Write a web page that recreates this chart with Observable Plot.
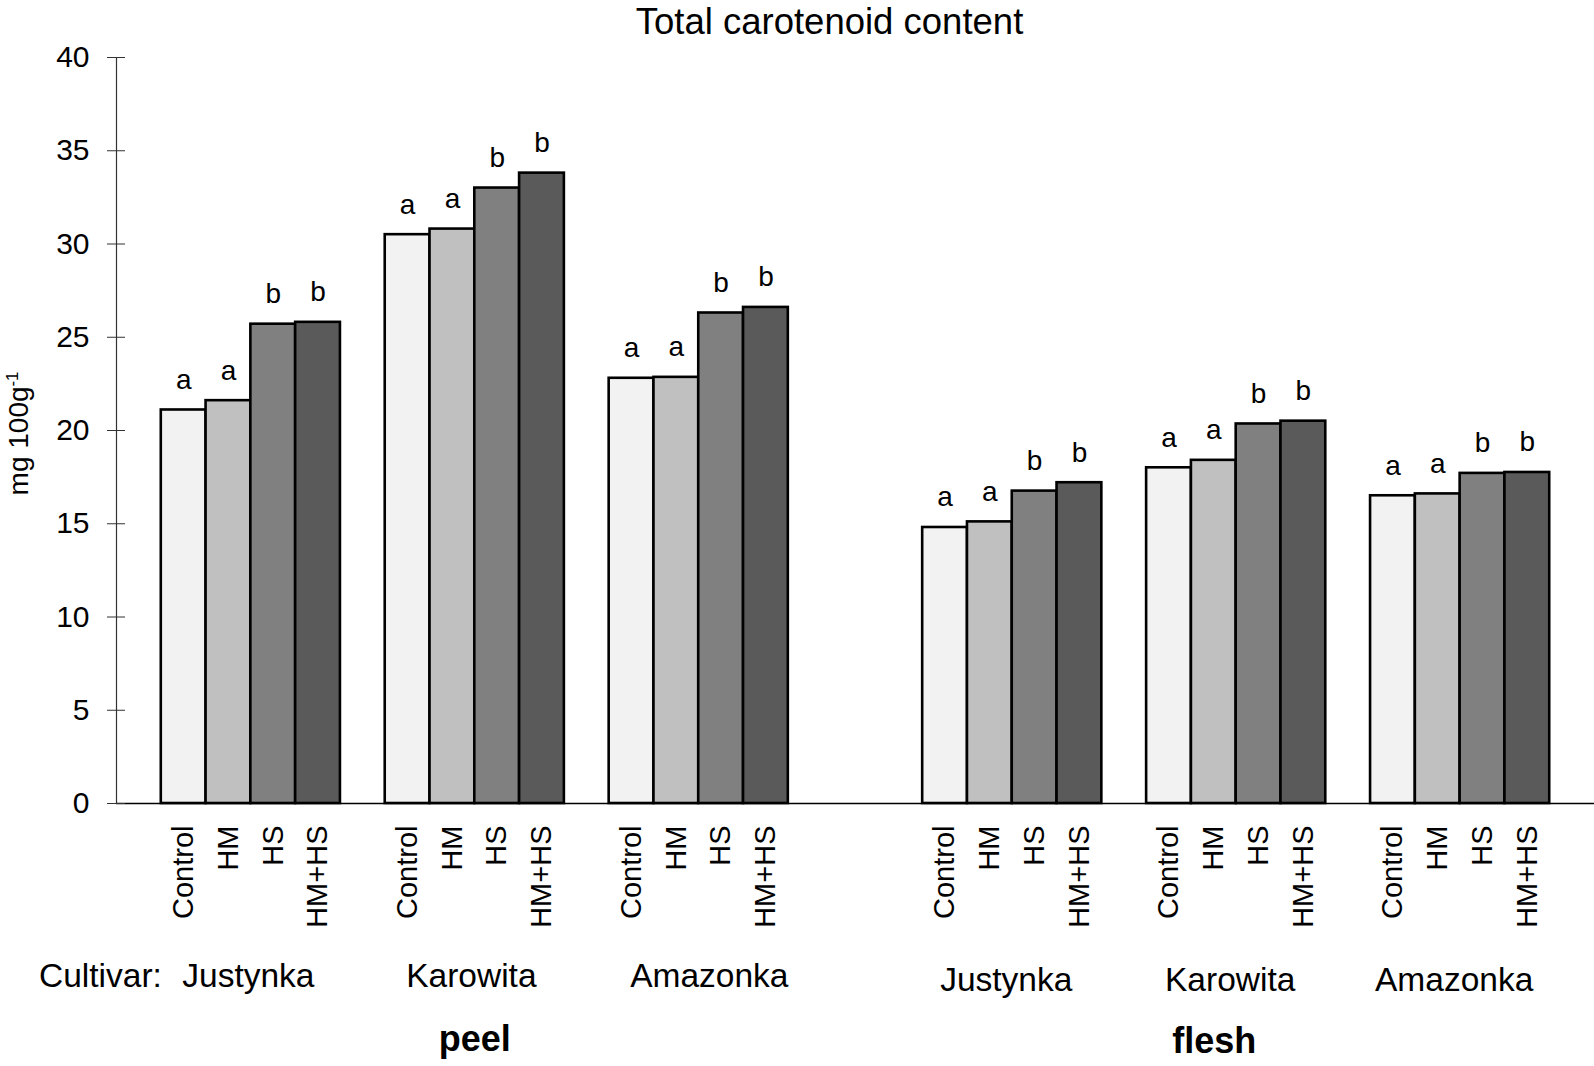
<!DOCTYPE html>
<html><head><meta charset="utf-8">
<script src="https://cdn.jsdelivr.net/npm/d3@7"></script>
<script src="https://cdn.jsdelivr.net/npm/@observablehq/plot@0.6"></script>
<style>body{margin:0;background:#fff} svg{display:block}</style>
</head><body><div id="chart"></div>
<script>
const title = "Total carotenoid content";
const yLabel = "mg 100g";
const yLabelSup = "-1";
const cultivarPrefix = "Cultivar:";
const parts = ["peel", "flesh"];
const cultivars = ["Justynka", "Karowita", "Amazonka"];
const treatments = ["Control", "HM", "HS", "HM+HS"];
const fills = ["#f2f2f2", "#c0c0c0", "#808080", "#5a5a5a"];
const peelValues = [
  [21.1, 21.6, 25.7, 25.8],
  [30.5, 30.8, 33.0, 33.8],
  [22.8, 22.85, 26.3, 26.6]
];
const fleshValues = [
  [14.8, 15.1, 16.75, 17.2],
  [18.0, 18.4, 20.35, 20.5],
  [16.5, 16.6, 17.7, 17.75]
];
const peelLetters = [["a","a","b","b"],["a","a","b","b"],["a","a","b","b"]];
const fleshLetters = [["a","a","b","b"],["a","a","b","b"],["a","a","b","b"]];
const yTicks = [0, 5, 10, 15, 20, 25, 30, 35, 40];

const W = 1594, H = 1066;
const groupSlots = treatments.length + 1;
const partSlots = cultivars.length * groupSlots + 2;
const totalSlots = 1 + partSlots + cultivars.length * groupSlots;
const startSlot = (p, g) => 1 + p * partSlots + g * groupSlots;

const valuesByPart = [peelValues, fleshValues];
const lettersByPart = [peelLetters, fleshLetters];
const rows = [];
const groups = [];
parts.forEach((part, p) => {
  cultivars.forEach((cv, g) => {
    const s = startSlot(p, g);
    groups.push({part, cultivar: cv, start: s, cx: s + treatments.length / 2});
    treatments.forEach((t, i) => {
      rows.push({part, cultivar: cv, treatment: t,
        value: valuesByPart[p][g][i], letter: lettersByPart[p][g][i],
        x1: s + i, x2: s + i + 1});
    });
  });
});
const partCenters = parts.map((part, p) => ({part,
  cx: (startSlot(p, 0) + startSlot(p, cultivars.length - 1) + treatments.length) / 2}));

const font = "Liberation Sans, Arial, Helvetica, sans-serif";
const chart = Plot.plot({
  width: W, height: H,
  marginLeft: 116, marginRight: 0, marginTop: 57, marginBottom: 263,
  style: {fontFamily: font, background: "white", color: "black", overflow: "visible"},
  x: {domain: [0, totalSlots], axis: null},
  y: {domain: [0, 40]},
  color: {domain: treatments, range: fills},
  marks: [
    Plot.rect(rows, {x1: "x1", x2: "x2", y1: 0, y2: "value", fill: "treatment", stroke: "black", strokeWidth: 2.6}),
    Plot.ruleX([0], {y1: 0, y2: 40, stroke: "#333", strokeWidth: 1.2}),
    Plot.ruleY([0], {stroke: "black", strokeWidth: 1.6}),
    Plot.axisY({ticks: yTicks, tickSize: 18, dx: 9, tickPadding: 18, fontSize: 30, label: null, stroke: "#333"}),
    Plot.text(rows, {x: d => (d.x1 + d.x2) / 2, y: "value", text: "letter", dy: -21, lineAnchor: "bottom", fontSize: 28, fill: "black"}),
    Plot.text(rows, {x: d => (d.x1 + d.x2) / 2, frameAnchor: "bottom", text: "treatment", rotate: -90, textAnchor: "end", lineAnchor: "middle", dy: 22, fontSize: 29, fill: "black"}),
    Plot.text(groups.filter(d => d.part === "peel"), {x: "start", frameAnchor: "bottom", text: "cultivar", dx: 21, dy: 173, textAnchor: "start", lineAnchor: "middle", fontSize: 33.5, fill: "black"}),
    Plot.text(groups.filter(d => d.part === "flesh"), {x: "cx", frameAnchor: "bottom", text: "cultivar", dx: -6, dy: 177, lineAnchor: "middle", fontSize: 33.5, fill: "black"}),
    Plot.text([cultivarPrefix], {frameAnchor: "bottom-left", dx: -77.5, dy: 173, textAnchor: "start", lineAnchor: "middle", fontSize: 33.5, fill: "black"}),
    Plot.text(partCenters.filter(d => d.part === "peel"), {x: "cx", frameAnchor: "bottom", text: "part", dy: 236, lineAnchor: "middle", fontSize: 36, fontWeight: "bold", fill: "black"}),
    Plot.text(partCenters.filter(d => d.part === "flesh"), {x: "cx", frameAnchor: "bottom", text: "part", dx: -22, dy: 238, lineAnchor: "middle", fontSize: 36, fontWeight: "bold", fill: "black"}),
    Plot.text([title], {frameAnchor: "top", dx: -26, dy: -24, lineAnchor: "bottom", fontSize: 36.5, fill: "black"}),
    Plot.text([yLabel], {frameAnchor: "left", dx: -97, dy: 3, rotate: -90, textAnchor: "middle", lineAnchor: "middle", fontSize: 28, fill: "black"})
  ]
});
document.getElementById("chart").appendChild(chart);
d3.select(chart).selectAll("text").filter(function() { return this.textContent === yLabel; })
  .append("tspan").attr("font-size", "0.6em").attr("dy", "-0.6em").text(yLabelSup);
</script>
</body></html>
